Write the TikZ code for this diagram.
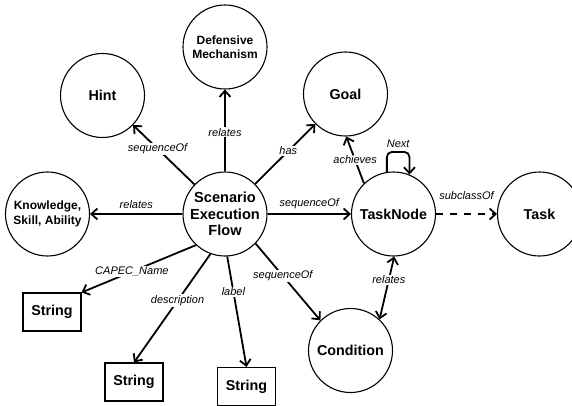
\documentclass[tikz,border=0pt]{standalone}
\usepackage{fontspec}
\setmainfont{Liberation Sans}
\usetikzlibrary{arrows.meta,positioning}

\begin{document}
\begin{tikzpicture}[>={Straight Barb[length=6pt,width=11pt]}, node distance=3cm, on grid, auto,
  concept/.style={circle, draw, line width=1.1pt, minimum size=84pt, inner sep=0pt, align=center, font=\bfseries\fontsize{14.3}{16}\selectfont},
  literal/.style={rectangle, draw, line width=1.1pt, minimum width=58pt, minimum height=38pt, inner sep=0pt, font=\bfseries\fontsize{14.3}{16}\selectfont},
  rel/.style={font=\itshape\fontsize{11}{12}\selectfont, inner sep=1pt},
  onl/.style={rel, fill=white, anchor=center}]
\useasboundingbox (0,0) rectangle (572pt,-406pt);
\node [concept, font=\bfseries\fontsize{14.6}{16.5}\selectfont] (flow) at (225pt,-214pt) {Scenario\\Execution\\Flow};
\node [concept, font=\bfseries\fontsize{12}{14}\selectfont] (defense) [above = 167pt of flow] {Defensive\\Mechanism};
\node [concept] (hint) [above left = 118.5pt and 122.5pt of flow] {Hint};
\node [concept] (goal) [above right = 120pt and 120.5pt of flow] {Goal};
\node [concept, font=\bfseries\fontsize{12}{14.5}\selectfont] (ksa) [left = 177.5pt of flow] {Knowledge,\\Skill, Ability};
\node [concept] (tasknode) [right = 168.5pt of flow] {TaskNode};
\node [concept] (task) [right = 146pt of tasknode] {Task};
\node [concept] (condition) [below right = 136.5pt and 125.5pt of flow] {Condition};
\node [literal] (str_name) [below left = 98pt and 173pt of flow] {String};
\node [literal] (str_desc) [below left = 168pt and 91pt of flow] {String};
\node [literal] (str_label) [below right = 172.5pt and 21.5pt of flow] {String};

\path [->, line width=1.8pt]
(flow) edge node [onl, pos=0.6] {sequenceOf} (hint)
edge node [onl, pos=0.48] {relates} (defense)
edge node [onl, pos=0.55] {has} (goal)
edge node [rel, above=3pt] {relates} (ksa)
edge node [rel, above=3pt] {sequenceOf} (tasknode)
(flow.227) edge node [onl, pos=0.56] {CAPEC\_Name} (str_name.north east)
(flow.-110) edge node [onl, pos=0.43] {description} (str_desc.north)
(flow.-87) edge node [onl, pos=0.32] {label} (str_label.north)
(flow.-44) edge node [onl, pos=0.42] {sequenceOf} (condition.135)
(tasknode.134) edge node [onl, pos=0.5] {achieves} (goal.-89)
(tasknode) edge [dashed, dash pattern=on 7pt off 7pt] node [rel, above=12pt] {subclassOf} (task)
(condition.47) edge [<->] node [onl, pos=0.63] {relates} (tasknode.-89);
\draw [->, line width=1.8pt, rounded corners=5pt] (tasknode.99) -- ++(0,20pt) -| node [rel, pos=0.25, above=2pt] {Next} (tasknode.68);
\end{tikzpicture}
\end{document}
